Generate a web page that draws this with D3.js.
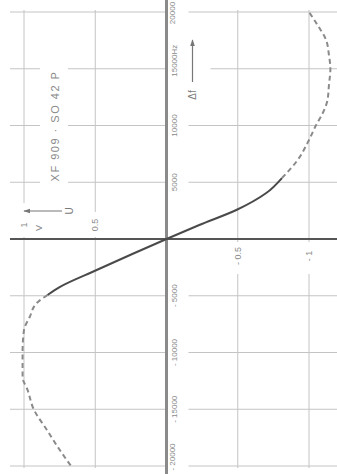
<!DOCTYPE html>
<html>
<head>
<meta charset="utf-8">
<script src="https://cdn.jsdelivr.net/npm/d3@7"></script>
<style>
  html, body { margin: 0; padding: 0; background: #fff; }
  svg { display: block; }
  text { font-family: "Liberation Sans", Arial, sans-serif; }
</style>
</head>
<body>
<svg id="chart" width="337" height="474"></svg>
<script>
// ---- data (chart is drawn rotated: Δf runs upward, U runs leftward) ----
const freqTicks = [-20000, -15000, -10000, -5000, 0, 5000, 10000, 15000, 20000];
const freqLabels = ["- 20000", "- 15000", "- 10000", "- 5000", "", "5000", "10000", "15000Hz", "20000"];
const uTicks = [-1, -0.5, 0, 0.5, 1];
const uLabels = ["- 1", "- 0.5", "", "0.5", "1"];

// solid part of the characteristic
const solidDf = [-4930, -4230, -2730, -1320, 0, 1230, 2555, 4050, 5370];
const solidU  = [0.835, 0.75, 0.49, 0.24, 0, -0.23, -0.49, -0.70, -0.81];
// dashed continuation, positive Δf
const dashUpDf = [5370, 6960, 8720, 10040, 10930, 12250, 13570, 15000, 16210, 17530, 18850, 20000];
const dashUpU  = [-0.81, -0.92, -1.00, -1.05, -1.09, -1.13, -1.14, -1.15, -1.14, -1.12, -1.06, -1.00];
// dashed continuation, negative Δf
const dashLoDf = [-4930, -5640, -6870, -8010, -9950, -12150, -13300, -15050, -16810, -18570, -20000];
const dashLoU  = [0.835, 0.91, 0.96, 1.00, 1.01, 1.01, 0.975, 0.93, 0.84, 0.75, 0.67];

const title = "XF 909 · SO 42 P";

// ---- scales ----
const svg = d3.select("#chart");
const y = d3.scaleLinear().domain([-20000, 20000]).range([466, 12]);  // Δf
const x = d3.scaleLinear().domain([-1, 1]).range([309, 24]);          // U
const x0 = x(0), y0 = y(0);

const gridColor = "#c4c4c4";
const g = svg.append("g");

// horizontal grid lines (constant Δf)
freqTicks.filter(d => d !== 0).forEach(d => {
  g.append("line").attr("x1", 10).attr("x2", x0).attr("y1", y(d)).attr("y2", y(d))
    .attr("stroke", gridColor).attr("stroke-width", 1);
  g.append("line").attr("x1", x0 + 22).attr("x2", 337).attr("y1", y(d)).attr("y2", y(d))
    .attr("stroke", gridColor).attr("stroke-width", 1);
});
// vertical grid lines (constant U)
uTicks.filter(d => d !== 0).forEach(d => {
  g.append("line").attr("x1", x(d)).attr("x2", x(d)).attr("y1", y(20000) - 2).attr("y2", y(-20000) + 2)
    .attr("stroke", gridColor).attr("stroke-width", 1);
});

// knockouts behind labels
const knock = (x1, y1, w, h) => g.append("rect").attr("x", x1).attr("y", y1)
  .attr("width", w).attr("height", h).attr("fill", "#fff");
knock(40, 62, 28, 128);                       // title
knock(x0 + 2, 32, 42, 76);                    // Δf arrow
knock(16, 203, 60, 34);                       // U arrow + "1 V"
knock(x(0.5) - 6, 212, 12, 25);               // 0.5
knock(x(-0.5) - 7, y0 + 3, 14, 32);           // -0.5
knock(x(-1) - 7, y0 + 3, 14, 32);             // -1

// axes
g.append("line").attr("x1", x0).attr("x2", x0).attr("y1", 0).attr("y2", 474)
  .attr("stroke", "#8a8a8a").attr("stroke-width", 3);
g.append("line").attr("x1", 10).attr("x2", 337).attr("y1", y0).attr("y2", y0)
  .attr("stroke", "#555").attr("stroke-width", 2);

// curves
const line = d3.line().x(d => x(d[1])).y(d => y(d[0])).curve(d3.curveMonotoneY);
const zip = (a, b) => a.map((v, i) => [v, b[i]]);
g.append("path").attr("d", line(zip(solidDf, solidU)))
  .attr("fill", "none").attr("stroke", "#4a4a4a").attr("stroke-width", 2);
[zip(dashUpDf, dashUpU), zip(dashLoDf, dashLoU)].forEach(pts => {
  g.append("path").attr("d", line(pts))
    .attr("fill", "none").attr("stroke", "#8a8a8a").attr("stroke-width", 2)
    .attr("stroke-dasharray", "5,3.5");
});

// tick labels on Δf axis (rotated)
const rot = (sel, tx, ty) => sel.attr("transform", `translate(${tx},${ty}) rotate(-90)`);
freqTicks.forEach((d, i) => {
  if (!freqLabels[i]) return;
  let tx = x0 + 8, ty = y(d);
  if (Math.abs(d) === 20000) { tx = x0 + 6; ty = y(d) + (d > 0 ? 1 : -9); }
  if (d === 15000) ty = y(d) - 8;
  rot(g.append("text"), tx, ty)
    .attr("text-anchor", "middle").attr("dominant-baseline", "central")
    .attr("font-size", 8).attr("fill", "#8a8a8a").text(freqLabels[i]);
});

// tick labels on U axis (rotated)
uTicks.forEach((d, i) => {
  if (!uLabels[i]) return;
  const ty = d > 0 ? y0 - 14 : y0 + 17;
  rot(g.append("text"), x(d), ty)
    .attr("text-anchor", "middle").attr("dominant-baseline", "central")
    .attr("font-size", 9).attr("fill", "#8a8a8a").text(uLabels[i]);
});
rot(g.append("text"), x(1) + 15, y0 - 11)
  .attr("text-anchor", "middle").attr("dominant-baseline", "central")
  .attr("font-size", 9).attr("fill", "#8a8a8a").text("V");

// U arrow
const ax = svg.append("defs").append("marker").attr("id", "ah")
  .attr("viewBox", "0 0 10 10").attr("refX", 9).attr("refY", 5)
  .attr("markerWidth", 6).attr("markerHeight", 6).attr("orient", "auto")
  .append("path").attr("d", "M0,1.5 L10,5 L0,8.5 Z").attr("fill", "#777");
g.append("line").attr("x1", x(1) + 38).attr("x2", x(1)).attr("y1", y0 - 28).attr("y2", y0 - 28)
  .attr("stroke", "#777").attr("stroke-width", 1.2).attr("marker-end", "url(#ah)");
rot(g.append("text"), x(1) + 45, y0 - 28)
  .attr("text-anchor", "middle").attr("dominant-baseline", "central")
  .attr("font-size", 10).attr("fill", "#7a7a7a").text("U");

// Δf arrow
g.append("line").attr("x1", x0 + 26).attr("x2", x0 + 26).attr("y1", 82).attr("y2", 40)
  .attr("stroke", "#777").attr("stroke-width", 1.2).attr("marker-end", "url(#ah)");
rot(g.append("text"), x0 + 26, 95)
  .attr("text-anchor", "middle").attr("dominant-baseline", "central")
  .attr("font-size", 10).attr("fill", "#7a7a7a").text("Δf");

// title
rot(g.append("text"), 55, 126)
  .attr("text-anchor", "middle").attr("dominant-baseline", "central")
  .attr("font-size", 11).attr("letter-spacing", 1.5).attr("fill", "#8a8a8a").text(title);
</script>
</body>
</html>
